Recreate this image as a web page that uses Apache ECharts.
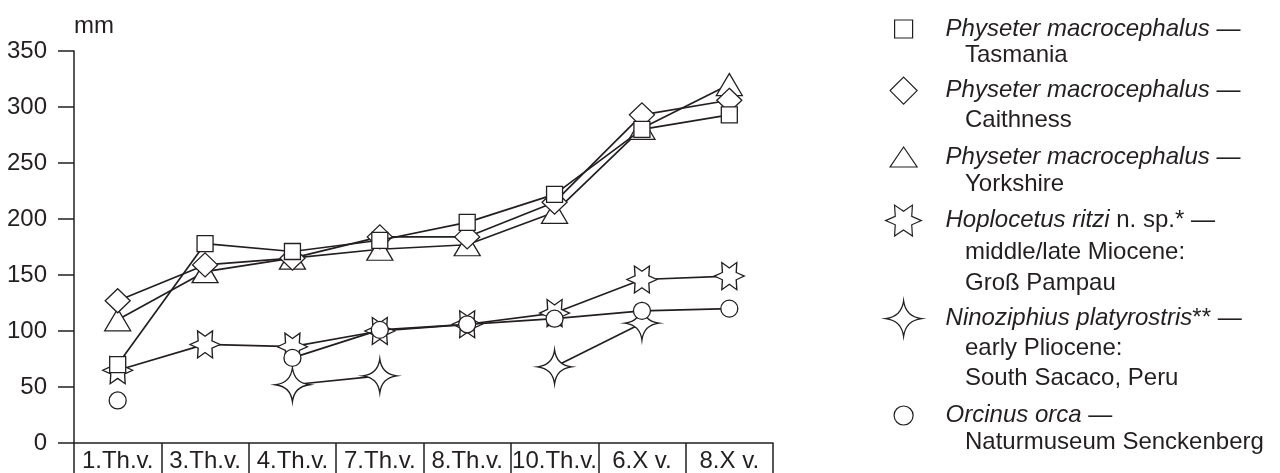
<!DOCTYPE html>
<html>
<head>
<meta charset="utf-8">
<script src="https://cdn.jsdelivr.net/npm/echarts@6/dist/echarts.min.js"></script>
<style>
	html, body { margin: 0; padding: 0; background: #fff; }
	#chart { width: 1280px; height: 473px; }
</style>
</head>
<body>
<div id="chart"></div>
<script>
// vertebra positions along the column
var categories = ['1.Th.v.', '3.Th.v.', '4.Th.v.', '7.Th.v.', '8.Th.v.', '10.Th.v.', '6.X v.', '8.X v.'];
var yTicks = [0, 50, 100, 150, 200, 250, 300, 350];

// measured values in mm
var tasmania   = [70, 178, 171, 181, 197, 222, 280, 293];
var caithness  = [127, 159, 165, 184, 184, 215, 293, 306];
var yorkshire  = [110, 153, 165, 173, 177, 206, 281, 320];
var hoplocetus = [65, 88, 86, 100, 106, 116, 146, 149];
var ninoziph   = [null, null, 52, 60, null, 68, 107, null];
var orcinus    = [38, null, 76, 101, 106, 111, 118, 120];

// legend texts: first line (italic part, plain part), then continuation lines
var legendItalic = ['Physeter macrocephalus', 'Physeter macrocephalus', 'Physeter macrocephalus', 'Hoplocetus ritzi', 'Ninoziphius platyrostris', 'Orcinus orca'];
var legendPlain  = [' —', ' —', ' —', ' n. sp.* —', '** —', ' —'];
var legendMore   = [['Tasmania'], ['Caithness'], ['Yorkshire'], ['middle/late Miocene:', 'Groß Pampau'], ['early Pliocene:', 'South Sacaco, Peru'], ['Naturmuseum Senckenberg']];

var INK = '#231f20';
var FONT = 'Liberation Sans, Arial, sans-serif';
var FS = 24;

var hexagram = 'path://M20 8.66 L14.6 6.3 L15 0 L10 3.4 L5 0 L5.4 6.3 L0 8.66 L5.4 11.02 L5 17.32 L10 13.92 L15 17.32 L14.6 11.02 Z';
var fourStar = 'path://M10 0 Q11.1 8.9 20 10 Q11.1 11.1 10 20 Q8.9 11.1 0 10 Q8.9 8.9 10 0 Z';

// per series: data, symbol, chart symbol size, legend icon size, legend row y, continuation rows y, z
var seriesCfg = [
	{ data: tasmania,   symbol: 'rect',     size: 16,       icon: [18, 18], y: 26,  more: [55],       z: 6 },
	{ data: caithness,  symbol: 'diamond',  size: [25, 24], icon: [27, 27], y: 90,  more: [120],      z: 5 },
	{ data: yorkshire,  symbol: 'triangle', size: [26, 22], icon: [27, 20], y: 155, more: [184],      z: 4 },
	{ data: hoplocetus, symbol: hexagram,   size: [30, 27], icon: [36, 31], y: 220, more: [252, 283], z: 3 },
	{ data: ninoziph,   symbol: fourStar,   size: [34, 34], icon: [36, 36], y: 318, more: [348, 378], z: 3 },
	{ data: orcinus,    symbol: 'circle',   size: 17,       icon: [19, 19], y: 413, more: [442],      z: 7 }
];

var iconCx = 903, textX = 945, moreX = 965;

var series = [], legends = [], graphics = [];

seriesCfg.forEach(function (c, i) {
	var name = legendItalic[i] + ' ' + i;
	series.push({
		name: name,
		type: 'line',
		data: c.data,
		z: c.z,
		symbol: c.symbol,
		symbolSize: c.size,
		showAllSymbol: true,
		connectNulls: false,
		lineStyle: { color: INK, width: 1.7 },
		itemStyle: { color: '#fff', borderColor: INK, borderWidth: 1.3 },
		emphasis: { disabled: true },
		animation: false
	});

	var w = c.icon[0], h = c.icon[1];
	var pad = textX - (iconCx + w / 2 + 5);
	legends.push({
		data: [{ name: name, icon: c.symbol }],
		left: iconCx - w / 2,
		top: c.y - h / 2,
		padding: 0,
		itemWidth: w,
		itemHeight: h,
		selectedMode: false,
		itemStyle: { color: '#fff', borderColor: INK, borderWidth: 1.2 },
		formatter: function () {
			return '{sp| }{i|' + legendItalic[i] + '}{n|' + legendPlain[i] + '}';
		},
		textStyle: {
			rich: {
				sp: { width: pad, fontSize: FS, fontFamily: FONT },
				i: { fontStyle: 'italic', fontSize: FS, color: INK, fontFamily: FONT },
				n: { fontSize: FS, color: INK, fontFamily: FONT }
			}
		}
	});

	legendMore[i].forEach(function (txt, k) {
		graphics.push({
			type: 'text',
			x: moreX,
			y: c.more[k],
			style: { text: txt, fill: INK, font: FS + 'px ' + FONT, verticalAlign: 'middle' }
		});
	});
});

var chart = echarts.init(document.getElementById('chart'), null, { renderer: 'canvas' });
chart.setOption({
	backgroundColor: '#fff',
	animation: false,
	grid: { left: 74, right: 507, top: 51, bottom: 30 },
	xAxis: {
		type: 'category',
		data: categories,
		boundaryGap: true,
		axisLine: { lineStyle: { color: INK, width: 1.5 } },
		axisTick: { show: true, interval: 0, length: 32, alignWithLabel: false, lineStyle: { color: INK, width: 1.5 } },
		axisLabel: { interval: 0, margin: 6, color: INK, fontSize: FS, fontFamily: FONT },
		splitLine: { show: false }
	},
	yAxis: {
		type: 'value',
		min: yTicks[0],
		max: yTicks[yTicks.length - 1],
		interval: 50,
		name: 'mm',
		nameLocation: 'end',
		nameGap: 25,
		nameTextStyle: { color: INK, fontSize: FS, fontFamily: FONT, align: 'left', verticalAlign: 'middle' },
		axisLine: { show: true, lineStyle: { color: INK, width: 1.5 } },
		axisTick: { show: true, length: 16, lineStyle: { color: INK, width: 1.5 } },
		axisLabel: { margin: 27, color: INK, fontSize: FS, fontFamily: FONT },
		splitLine: { show: false }
	},
	legend: legends,
	graphic: graphics,
	series: series
});
</script>
</body>
</html>
